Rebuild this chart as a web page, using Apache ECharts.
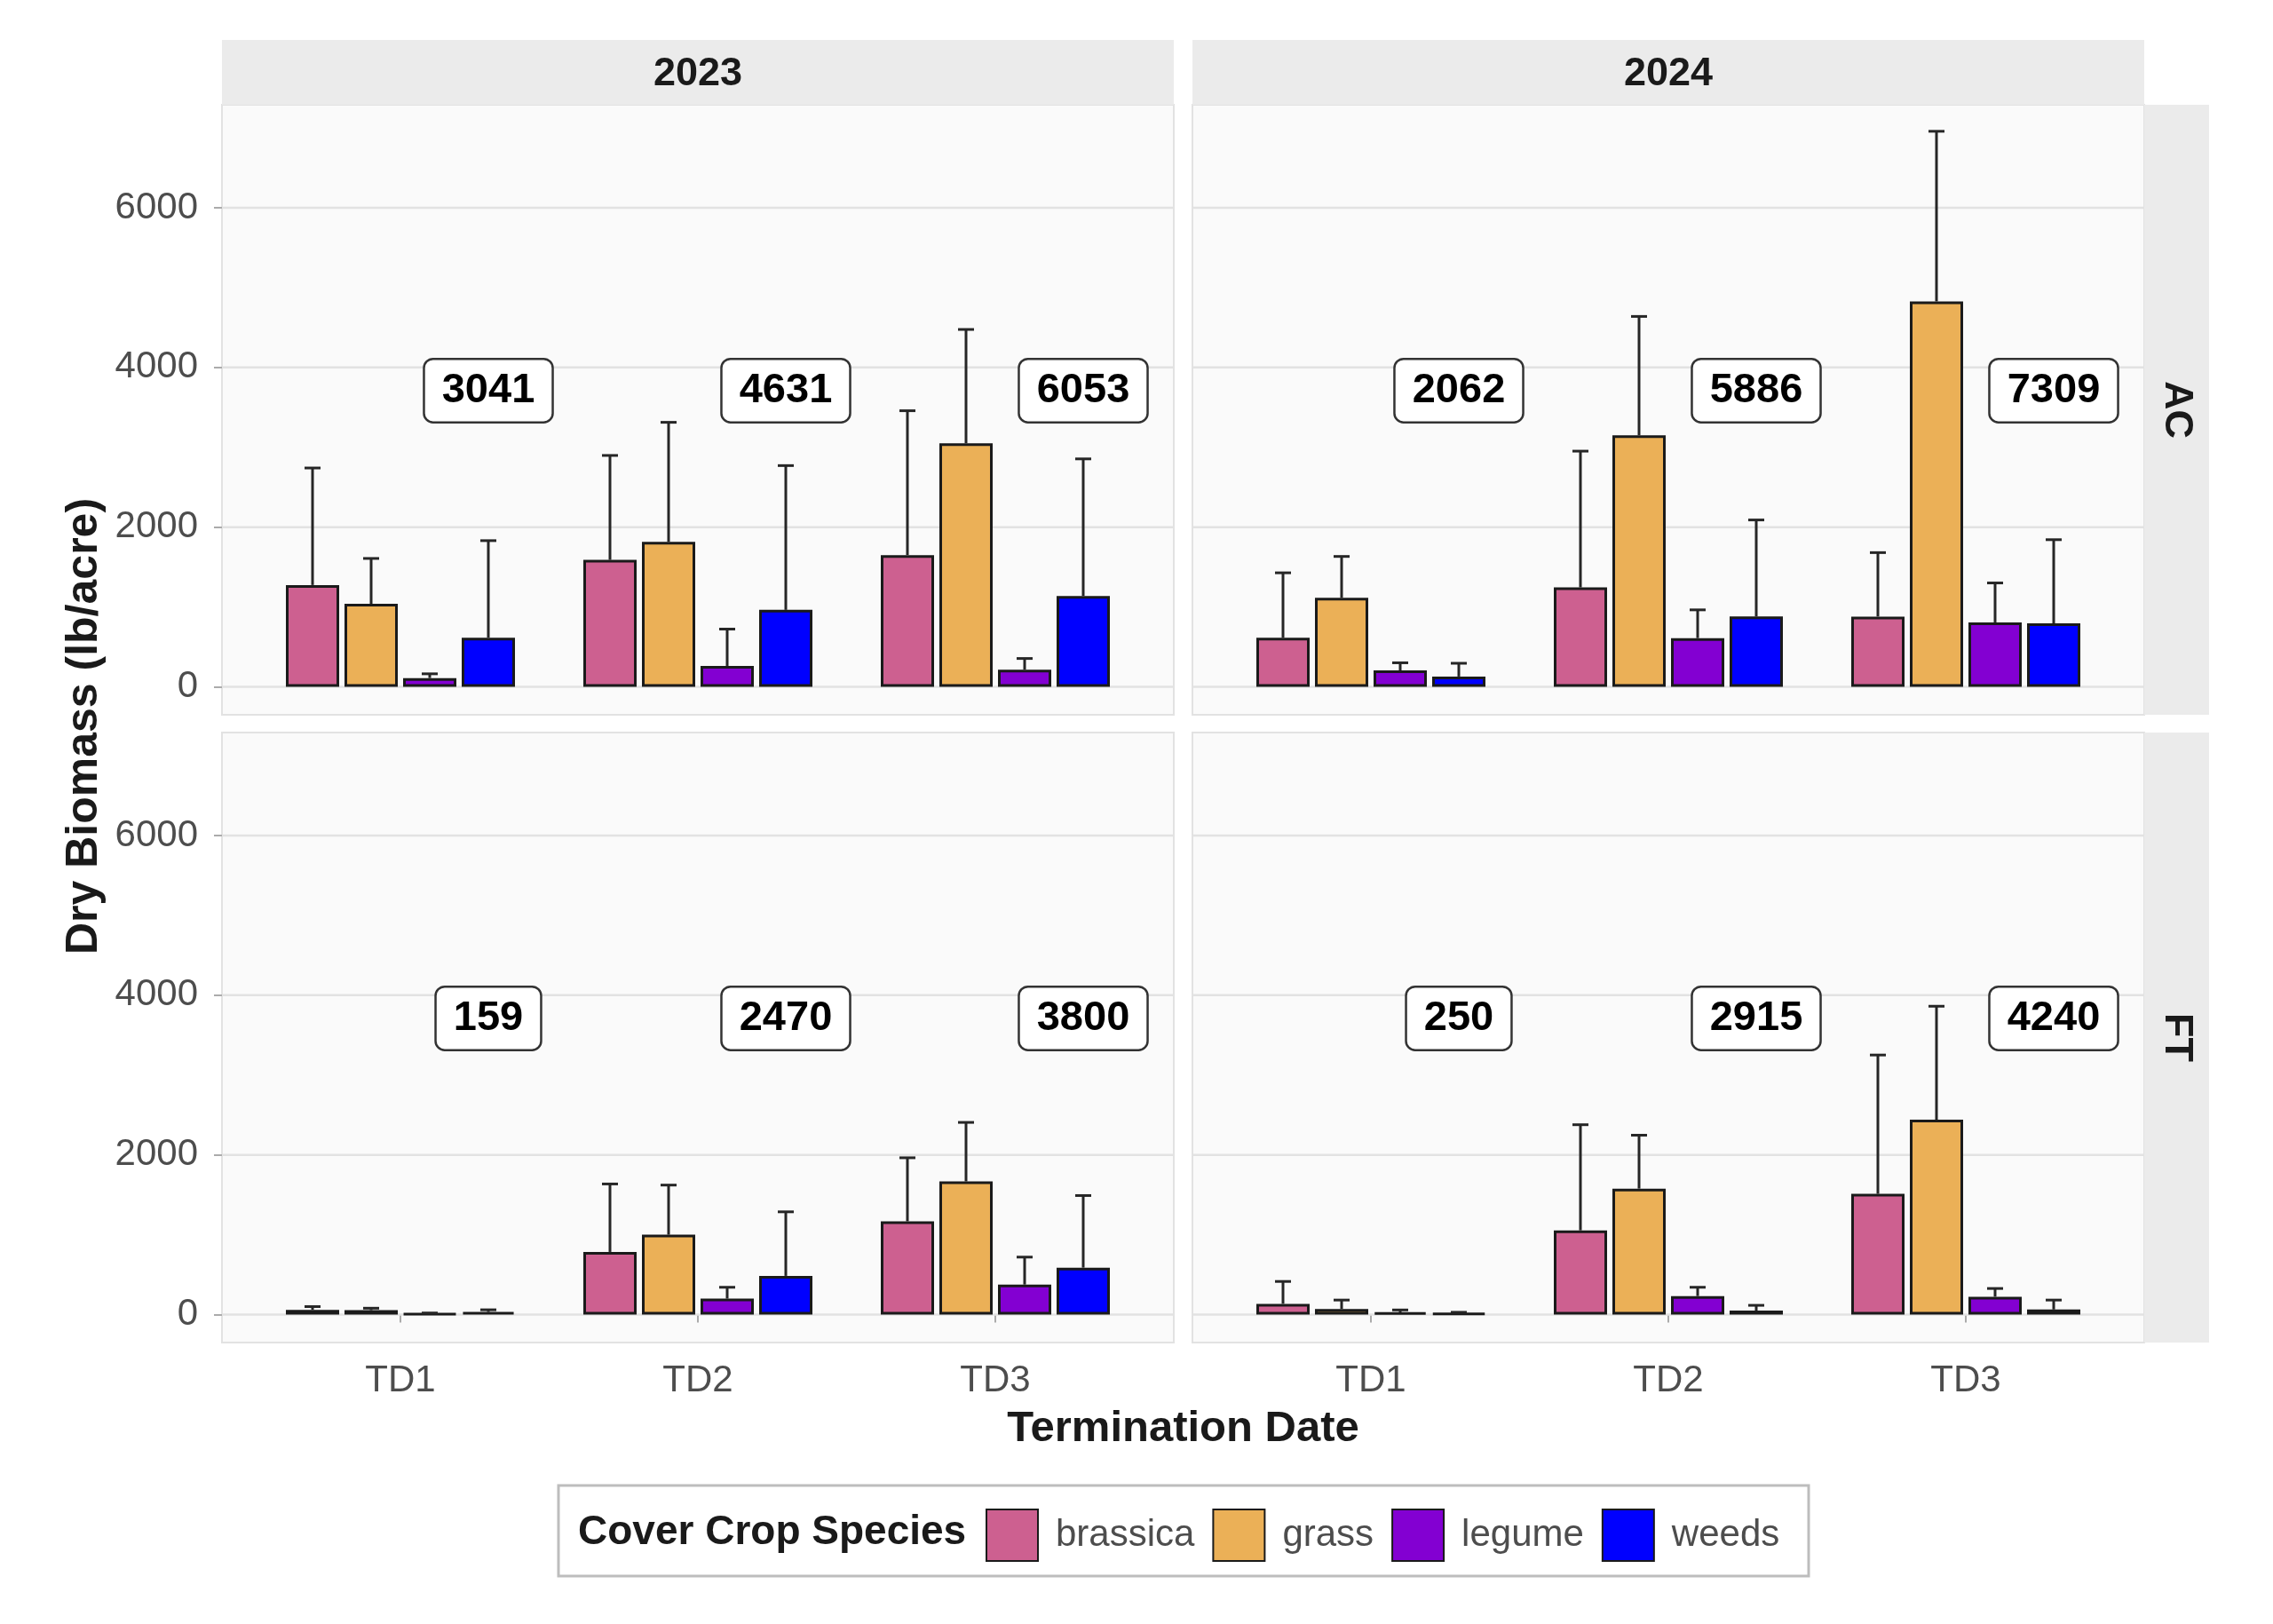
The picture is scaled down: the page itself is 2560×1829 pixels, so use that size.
<!DOCTYPE html>
<html>
<head>
<meta charset="utf-8">
<script src="https://cdn.jsdelivr.net/npm/echarts@6/dist/echarts.min.js"></script>
<style>html,body{margin:0;padding:0;background:#fff}#c{width:2560px;height:1829px}</style>
</head>
<body>
<div id="c"></div>
<script>
// ---------------- DATA ----------------
const categories = ['TD1', 'TD2', 'TD3'];
const species = ['brassica', 'grass', 'legume', 'weeds'];
const years = ['2023', '2024'];
const sites = ['AC', 'FT'];
const yTicks = [0, 2000, 4000, 6000];
const speciesColors = ['#CD6090', '#EBB057', '#8300D2', '#0000FF'];

// AC 2023 – means and upper error (mean + sd)
const ac2023_brassica = [1275, 1590, 1650];
const ac2023_grass    = [1040, 1815, 3050];
const ac2023_legume   = [110, 262, 215];
const ac2023_weeds    = [616, 964, 1138];
const ac2023_brassica_hi = [2741, 2898, 3458];
const ac2023_grass_hi    = [1608, 3313, 4476];
const ac2023_legume_hi   = [163, 723, 355];
const ac2023_weeds_hi    = [1831, 2771, 2855];
const ac2023_total = [3041, 4631, 6053];

// AC 2024
const ac2024_brassica = [614, 1245, 880];
const ac2024_grass    = [1114, 3150, 4827];
const ac2024_legume   = [205, 610, 807];
const ac2024_weeds    = [129, 881, 795];
const ac2024_brassica_hi = [1428, 2952, 1681];
const ac2024_grass_hi    = [1633, 4639, 6958];
const ac2024_legume_hi   = [301, 964, 1301];
const ac2024_weeds_hi    = [295, 2090, 1843];
const ac2024_total = [2062, 5886, 7309];

// FT 2023
const ft2023_brassica = [60, 785, 1168];
const ft2023_grass    = [55, 1000, 1668];
const ft2023_legume   = [12, 200, 376];
const ft2023_weeds    = [32, 485, 588];
const ft2023_brassica_hi = [100, 1636, 1964];
const ft2023_grass_hi    = [80, 1622, 2407];
const ft2023_legume_hi   = [20, 342, 720];
const ft2023_weeds_hi    = [60, 1287, 1491];
const ft2023_total = [159, 2470, 3800];

// FT 2024
const ft2024_brassica = [135, 1055, 1512];
const ft2024_grass    = [70, 1578, 2440];
const ft2024_legume   = [28, 232, 224];
const ft2024_weeds    = [17, 50, 64];
const ft2024_brassica_hi = [415, 2378, 3251];
const ft2024_grass_hi    = [182, 2247, 3862];
const ft2024_legume_hi   = [58, 342, 327];
const ft2024_weeds_hi    = [29, 116, 182];
const ft2024_total = [250, 2915, 4240];

const panels = [
  { year: '2023', site: 'AC', mean: [ac2023_brassica, ac2023_grass, ac2023_legume, ac2023_weeds],
    hi: [ac2023_brassica_hi, ac2023_grass_hi, ac2023_legume_hi, ac2023_weeds_hi], total: ac2023_total },
  { year: '2024', site: 'AC', mean: [ac2024_brassica, ac2024_grass, ac2024_legume, ac2024_weeds],
    hi: [ac2024_brassica_hi, ac2024_grass_hi, ac2024_legume_hi, ac2024_weeds_hi], total: ac2024_total },
  { year: '2023', site: 'FT', mean: [ft2023_brassica, ft2023_grass, ft2023_legume, ft2023_weeds],
    hi: [ft2023_brassica_hi, ft2023_grass_hi, ft2023_legume_hi, ft2023_weeds_hi], total: ft2023_total },
  { year: '2024', site: 'FT', mean: [ft2024_brassica, ft2024_grass, ft2024_legume, ft2024_weeds],
    hi: [ft2024_brassica_hi, ft2024_grass_hi, ft2024_legume_hi, ft2024_weeds_hi], total: ft2024_total }
];

// ---------------- LAYOUT ----------------
const FONT = '"Liberation Sans", Arial, Helvetica, sans-serif';
const COL_X = [250, 1343];
const ROW_Y = [118, 825];
const PANEL_W = 1072, PANEL_H = 687;
const INSET = 33.5;
const Y_MIN = -350, Y_MAX = 7290;
const STRIP_TOP = 45, STRIP_H = 73, RSTRIP_W = 73;
const BAR_W = 60, BAR_GAP = 6, CAP = 18;
const LABEL_Y = 3710;
const TICK_COLOR = '#ABABAB';
const TEXT_GRAY = '#4D4D4D';

const grid = [], xAxis = [], yAxis = [], series = [];
const n = panels.length;

panels.forEach((p, i) => {
  const c = years.indexOf(p.year), r = sites.indexOf(p.site);
  // frame grid (panel background + horizontal grid lines + y labels)
  grid[i] = { left: COL_X[c], top: ROW_Y[r], width: PANEL_W, height: PANEL_H, show: true,
    backgroundColor: '#FAFAFA', borderColor: '#E2E2E2', borderWidth: 2, outerBoundsMode: 'none', containLabel: false };
  xAxis[i] = { gridIndex: i, type: 'value', min: 0, max: 1, show: false };
  yAxis[i] = { gridIndex: i, type: 'value', min: Y_MIN, max: Y_MAX,
    axisLine: { show: false },
    axisTick: { show: c === 0, length: 9, customValues: yTicks, lineStyle: { color: TICK_COLOR, width: 2 } },
    axisLabel: { show: c === 0, customValues: yTicks, margin: 27, fontSize: 42, color: TEXT_GRAY, fontFamily: FONT,
      formatter: v => String(v) },
    splitLine: { show: false } };
  // data grid (inset to reproduce discrete-axis expansion)
  const g = n + i;
  grid[g] = { left: COL_X[c] + INSET, top: ROW_Y[r], width: PANEL_W - 2 * INSET, height: PANEL_H,
    outerBoundsMode: 'none', containLabel: false };
  xAxis[g] = { gridIndex: g, type: 'category', data: categories,
    axisLine: { show: false },
    axisTick: { show: r === 1, alignWithLabel: true, length: 9, lineStyle: { color: TICK_COLOR, width: 2 } },
    axisLabel: { show: r === 1, margin: 22, fontSize: 42, color: TEXT_GRAY, fontFamily: FONT },
    splitLine: { show: false } };
  yAxis[g] = { gridIndex: g, type: 'value', min: Y_MIN, max: Y_MAX, show: false };

  // horizontal grid lines
  series.push({
    type: 'custom', xAxisIndex: i, yAxisIndex: i, z: 1, silent: true,
    data: yTicks.map(v => [v]), encode: { y: 0 },
    renderItem: (params, api) => {
      const cs = params.coordSys;
      const y = api.coord([0, api.value(0)])[1];
      return { type: 'line', shape: { x1: cs.x, y1: y, x2: cs.x + cs.width, y2: y },
        style: { stroke: '#E2E2E2', lineWidth: 2.5 } };
    }
  });

  // bars
  species.forEach((s, k) => {
    series.push({
      type: 'bar', name: s, xAxisIndex: g, yAxisIndex: g, z: 2,
      data: p.mean[k], barWidth: BAR_W, barGap: (BAR_GAP / BAR_W * 100) + '%',
      itemStyle: { color: speciesColors[k], borderColor: '#1A1A1A', borderWidth: 3 },
      emphasis: { disabled: true }
    });
  });

  // error bars
  const errData = [];
  species.forEach((s, k) => {
    categories.forEach((cat, j) => errData.push([j, k, p.mean[k][j], p.hi[k][j]]));
  });
  series.push({
    type: 'custom', xAxisIndex: g, yAxisIndex: g, z: 3, silent: true,
    data: errData, encode: { x: 0, y: 3 },
    renderItem: (params, api) => {
      const j = api.value(0), k = api.value(1);
      const p0 = api.coord([j, api.value(2)]);
      const p1 = api.coord([j, api.value(3)]);
      const x = p0[0] + (k - (species.length - 1) / 2) * (BAR_W + BAR_GAP);
      const st = { stroke: '#262626', lineWidth: 3 };
      return { type: 'group', children: [
        { type: 'line', shape: { x1: x, y1: p0[1], x2: x, y2: p1[1] }, style: st },
        { type: 'line', shape: { x1: x - CAP / 2, y1: p1[1], x2: x + CAP / 2, y2: p1[1] }, style: st }
      ] };
    }
  });

  // total labels
  series.push({
    type: 'custom', xAxisIndex: g, yAxisIndex: g, z: 4, silent: true,
    data: p.total.map((t, j) => [j, t]), encode: { x: 0, y: 1 },
    renderItem: (params, api) => {
      const pt = api.coord([api.value(0), LABEL_Y]);
      const x = pt[0] + ((species.length - 1) / 2) * (BAR_W + BAR_GAP);
      return { type: 'text', x: x, y: pt[1], style: {
        text: String(api.value(1)), align: 'center', verticalAlign: 'middle',
        fontSize: 47, fontWeight: 'bold', fontFamily: FONT, fill: '#000', lineHeight: 47,
        backgroundColor: '#FFFFFF', borderColor: '#333333', borderWidth: 2.5, borderRadius: 9,
        padding: [11, 19]
      } };
    }
  });
});

// strips, titles, legend frame
const graphics = [];
years.forEach((y, c) => {
  graphics.push({ type: 'rect', shape: { x: COL_X[c], y: STRIP_TOP, width: PANEL_W, height: STRIP_H },
    style: { fill: '#EBEBEB' } });
  graphics.push({ type: 'text', x: COL_X[c] + PANEL_W / 2, y: STRIP_TOP + STRIP_H / 2 + 2,
    style: { text: y, align: 'center', verticalAlign: 'middle', fontSize: 45, fontWeight: 'bold',
      fontFamily: FONT, fill: '#1A1A1A' } });
});
sites.forEach((s, r) => {
  const x0 = COL_X[1] + PANEL_W;
  graphics.push({ type: 'rect', shape: { x: x0, y: ROW_Y[r], width: RSTRIP_W, height: PANEL_H },
    style: { fill: '#EBEBEB' } });
  graphics.push({ type: 'text', x: x0 + RSTRIP_W / 2, y: ROW_Y[r] + PANEL_H / 2, rotation: -Math.PI / 2,
    style: { text: s, align: 'center', verticalAlign: 'middle', fontSize: 45, fontWeight: 'bold',
      fontFamily: FONT, fill: '#1A1A1A' } });
});
graphics.push({ type: 'text', x: 95, y: 818, rotation: Math.PI / 2,
  style: { text: 'Dry Biomass (lb/acre)', align: 'center', verticalAlign: 'middle', fontSize: 50,
    fontWeight: 'bold', fontFamily: FONT, fill: '#1A1A1A' } });
graphics.push({ type: 'text', x: (COL_X[0] + COL_X[1] + PANEL_W) / 2, y: 1609,
  style: { text: 'Termination Date', align: 'center', verticalAlign: 'middle', fontSize: 49,
    fontWeight: 'bold', fontFamily: FONT, fill: '#1A1A1A' } });
graphics.push({ type: 'rect', shape: { x: 629, y: 1673, width: 1408, height: 102 },
  style: { fill: '#FFFFFF', stroke: '#BDBDBD', lineWidth: 3 } });
graphics.push({ type: 'text', x: 651, y: 1726,
  style: { text: 'Cover Crop Species', align: 'left', verticalAlign: 'middle', fontSize: 46,
    fontWeight: 'bold', fontFamily: FONT, fill: '#1A1A1A' } });

const option = {
  animation: false,
  backgroundColor: '#FFFFFF',
  textStyle: { fontFamily: FONT },
  grid, xAxis, yAxis, series,
  graphic: { elements: graphics },
  legend: {
    data: species, left: 1105, top: 1694, orient: 'horizontal',
    itemWidth: 58, itemHeight: 58, itemGap: 20, icon: 'rect', selectedMode: false,
    textStyle: { fontSize: 42, color: TEXT_GRAY, fontFamily: FONT, padding: [0, 0, 0, 15] }
  }
};

const chart = echarts.init(document.getElementById('c'), null, { renderer: 'canvas', width: 2560, height: 1829 });
chart.setOption(option);
</script>
</body>
</html>
